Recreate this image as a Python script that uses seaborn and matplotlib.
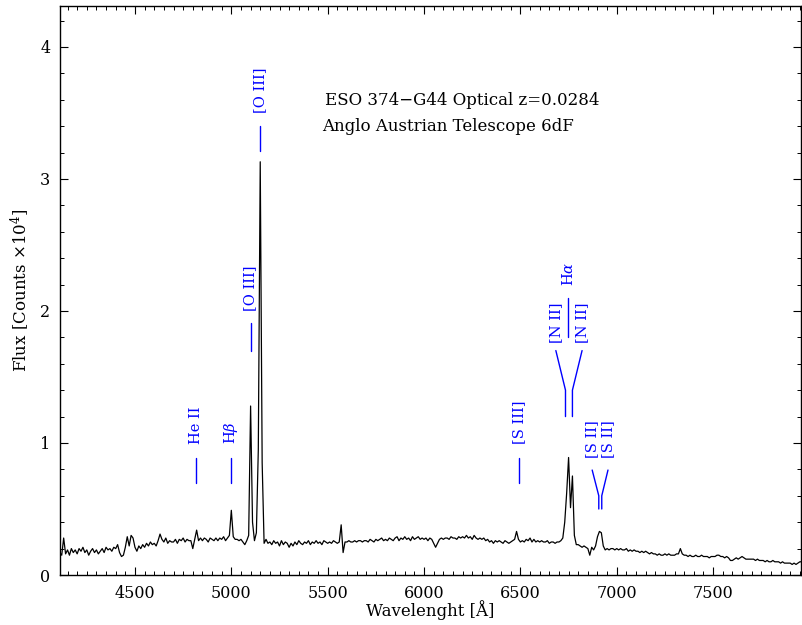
import numpy as np
import pandas as pd
import matplotlib
matplotlib.use("Agg")
import matplotlib.pyplot as plt
from matplotlib.ticker import MultipleLocator
import seaborn as sns

# ---------------------------------------------------------------------------
# 6dF optical spectrum of ESO 374-G44, sampled every 10 Angstrom
# (flux in units of 10^4 counts)
# ---------------------------------------------------------------------------
redshift = 0.0284
sampling = 10

flux_4110 = [
    0.17, 0.15, 0.28, 0.16, 0.19, 0.15, 0.20, 0.17, 0.19,
    0.16, 0.20, 0.18, 0.21, 0.17, 0.19, 0.15, 0.18, 0.20, 0.17,
    0.19, 0.16, 0.18, 0.20, 0.17, 0.21, 0.19, 0.20, 0.18, 0.21,
    0.20, 0.23, 0.17, 0.14, 0.15, 0.21, 0.29, 0.22, 0.30, 0.28,
    0.21, 0.18, 0.22, 0.20, 0.23, 0.21, 0.24, 0.22, 0.25, 0.23,
    0.24, 0.22, 0.26, 0.31, 0.27, 0.25, 0.28, 0.24, 0.26, 0.25,
    0.25, 0.27, 0.24, 0.27, 0.26, 0.28, 0.25, 0.27, 0.26, 0.26,
    0.20, 0.27, 0.34, 0.26, 0.28, 0.26, 0.28, 0.27, 0.25, 0.28,
    0.27, 0.26, 0.28, 0.26, 0.28, 0.27, 0.29, 0.26, 0.28, 0.30,
]
flux_5000 = [
    0.49, 0.29, 0.27, 0.27, 0.26, 0.27, 0.25, 0.23, 0.26, 0.30,
    1.28, 0.40, 0.26, 0.32, 0.95, 3.13, 0.85, 0.24, 0.27, 0.24,
    0.25, 0.23, 0.26, 0.24, 0.25, 0.22, 0.26, 0.23, 0.25, 0.24,
    0.21, 0.24, 0.22, 0.25, 0.23, 0.26, 0.24, 0.23, 0.25, 0.24,
    0.26, 0.23, 0.25, 0.24, 0.26, 0.24, 0.25, 0.23, 0.26, 0.25,
    0.24, 0.25, 0.24, 0.26, 0.25, 0.24, 0.25, 0.38, 0.17, 0.25,
    0.25, 0.26, 0.25, 0.25, 0.26, 0.25, 0.26, 0.26, 0.25, 0.26,
    0.26, 0.25, 0.27, 0.26, 0.25, 0.27, 0.26, 0.27, 0.28, 0.26,
    0.27, 0.26, 0.28, 0.27, 0.26, 0.28, 0.29, 0.26, 0.28, 0.27,
    0.29, 0.27, 0.28, 0.26, 0.29, 0.27, 0.28, 0.29, 0.27, 0.28,
]
flux_6000 = [
    0.27, 0.28, 0.26, 0.28, 0.27, 0.24, 0.21, 0.24, 0.27, 0.28,
    0.27, 0.28, 0.28, 0.27, 0.29, 0.28, 0.28, 0.27, 0.29, 0.28,
    0.29, 0.28, 0.30, 0.28, 0.29, 0.27, 0.30, 0.28, 0.27, 0.28,
    0.27, 0.28, 0.26, 0.27, 0.25, 0.26, 0.24, 0.26, 0.25, 0.26,
    0.25, 0.24, 0.26, 0.25, 0.24, 0.25, 0.26, 0.27, 0.33, 0.27,
    0.25, 0.26, 0.25, 0.27, 0.26, 0.28, 0.25, 0.27, 0.25, 0.26,
    0.25, 0.26, 0.25, 0.25, 0.26, 0.24, 0.25, 0.25, 0.24, 0.25,
    0.25, 0.26, 0.28, 0.40, 0.62, 0.89, 0.51, 0.75, 0.30, 0.23,
    0.23, 0.22, 0.21, 0.22, 0.21, 0.20, 0.15, 0.21, 0.19, 0.22,
    0.29, 0.33, 0.32, 0.22, 0.19, 0.20, 0.19, 0.20, 0.20, 0.19,
]
flux_7000 = [
    0.20, 0.19, 0.20, 0.19, 0.19, 0.20, 0.18, 0.19, 0.18, 0.19,
    0.18, 0.18, 0.17, 0.18, 0.17, 0.18, 0.17, 0.16, 0.17, 0.16,
    0.16, 0.15, 0.16, 0.15, 0.15, 0.16, 0.15, 0.16, 0.15, 0.15,
    0.15, 0.16, 0.16, 0.20, 0.16, 0.15, 0.15, 0.14, 0.15, 0.14,
    0.14, 0.15, 0.14, 0.14, 0.15, 0.14, 0.14, 0.14, 0.13, 0.14,
    0.14, 0.14, 0.15, 0.15, 0.14, 0.14, 0.13, 0.14, 0.13, 0.11,
    0.11, 0.12, 0.13, 0.12, 0.13, 0.14, 0.13, 0.12, 0.12, 0.12,
    0.12, 0.12, 0.11, 0.12, 0.11, 0.11, 0.11, 0.10, 0.11, 0.10,
    0.10, 0.11, 0.10, 0.10, 0.10, 0.09, 0.10, 0.09, 0.09, 0.09,
    0.09, 0.08, 0.09, 0.08, 0.09, 0.10, 0.10,
]
segment_starts = [4110, 5000, 6000, 7000]
segments = [flux_4110, flux_5000, flux_6000, flux_7000]

# isolated line identifications (rest wavelength, marker span, label base)
single_names = ["He II", r"H$\beta$", "[O III]", "[O III]", "[S III]"]
single_rest = [4686, 4861, 4959, 5007, 6312]
single_lo = [0.70, 0.70, 1.70, 3.21, 0.70]
single_hi = [0.89, 0.89, 1.91, 3.40, 0.89]
single_label = [0.99, 0.99, 2.00, 3.50, 0.99]

# blended doublets drawn with forked markers
nii_rest = [6548, 6583]
ha_rest = 6563
sii_rest = [6716, 6731]

title_lines = ["ESO 374\u2212G44 Optical z=0.0284", "Anglo Austrian Telescope 6dF"]

# ---------------------------------------------------------------------------
frames = []
for start, seg in zip(segment_starts, segments):
    wl = start + sampling * np.arange(len(seg))
    frames.append(pd.DataFrame({"wave": wl, "flux": seg}))
spec = pd.concat(frames, ignore_index=True)

sns.set_theme(style="ticks")
plt.rcParams.update({
    "font.family": ["DejaVu Serif"],
    "mathtext.fontset": "dejavuserif",
    "text.color": "black",
    "axes.labelcolor": "black",
    "xtick.direction": "in", "ytick.direction": "in",
    "xtick.top": True, "ytick.right": True,
    "xtick.major.size": 6, "ytick.major.size": 6,
    "xtick.minor.size": 3, "ytick.minor.size": 3,
    "xtick.major.width": 0.8, "ytick.major.width": 0.8,
    "xtick.minor.width": 0.7, "ytick.minor.width": 0.7,
    "axes.linewidth": 1.0,
    "axes.edgecolor": "black",
    "xtick.color": "black", "ytick.color": "black",
    "xtick.labelcolor": "black", "ytick.labelcolor": "black",
    "xtick.labelsize": 11.5, "ytick.labelsize": 11.5,
})

fig = plt.figure(figsize=(8.02, 6.25), dpi=100)
ax = fig.add_axes([60 / 802, 1 - 575 / 625, 741 / 802, 569 / 625])

sns.lineplot(data=spec, x="wave", y="flux", ax=ax, color="black",
             linewidth=0.9, estimator=None, sort=False)

ax.set_xlim(4111, 7956)
ax.set_ylim(0, 4.31)
ax.xaxis.set_major_locator(MultipleLocator(500))
ax.xaxis.set_minor_locator(MultipleLocator(50))
ax.yaxis.set_major_locator(MultipleLocator(1))
ax.yaxis.set_minor_locator(MultipleLocator(0.2))
ax.tick_params(which="major", pad=7)
ax.set_xlabel("Wavelenght [\u00c5]", fontsize=12, labelpad=-1, color="black")
ax.set_ylabel(r"Flux [Counts $\times$10$^4$]", fontsize=12, labelpad=6,
              color="black")

blue = "#0000ff"
lab_kw = dict(color=blue, rotation=90, ha="center", va="bottom", fontsize=10.5)

for name, rest, lo, hi, lab in zip(single_names, single_rest, single_lo,
                                    single_hi, single_label):
    wl = rest * (1 + redshift)
    ax.plot([wl, wl], [lo, hi], color=blue, lw=1.0)
    ax.text(wl, lab, name, **lab_kw)

# [N II] + H-alpha fork
nii_obs = [w * (1 + redshift) for w in nii_rest]
nii_mid = np.mean(nii_obs)
nii_tops = [nii_mid - 68, nii_mid + 68]
for wl, top in zip(nii_obs, nii_tops):
    ax.plot([wl, wl, top], [1.20, 1.40, 1.70], color=blue, lw=1.0)
    ax.text(top, 1.76, "[N II]", **lab_kw)
ha_obs = ha_rest * (1 + redshift)
ax.plot([ha_obs, ha_obs], [1.80, 2.10], color=blue, lw=1.0)
ax.text(ha_obs, 2.19, r"H$\alpha$", **lab_kw)

# [S II] doublet fork
sii_obs = [w * (1 + redshift) for w in sii_rest]
sii_mid = np.mean(sii_obs)
sii_tops = [sii_mid - 42, sii_mid + 40]
for wl, top in zip(sii_obs, sii_tops):
    ax.plot([wl, wl, top], [0.50, 0.60, 0.795], color=blue, lw=1.0)
    ax.text(top, 0.89, "[S II]", **lab_kw)

ax.text(5486, 3.56, title_lines[0], fontsize=12, color="black", va="baseline")
ax.text(5471, 3.36, title_lines[1], fontsize=12, color="black", va="baseline")

fig.savefig("out.png", dpi=100, facecolor="white")
